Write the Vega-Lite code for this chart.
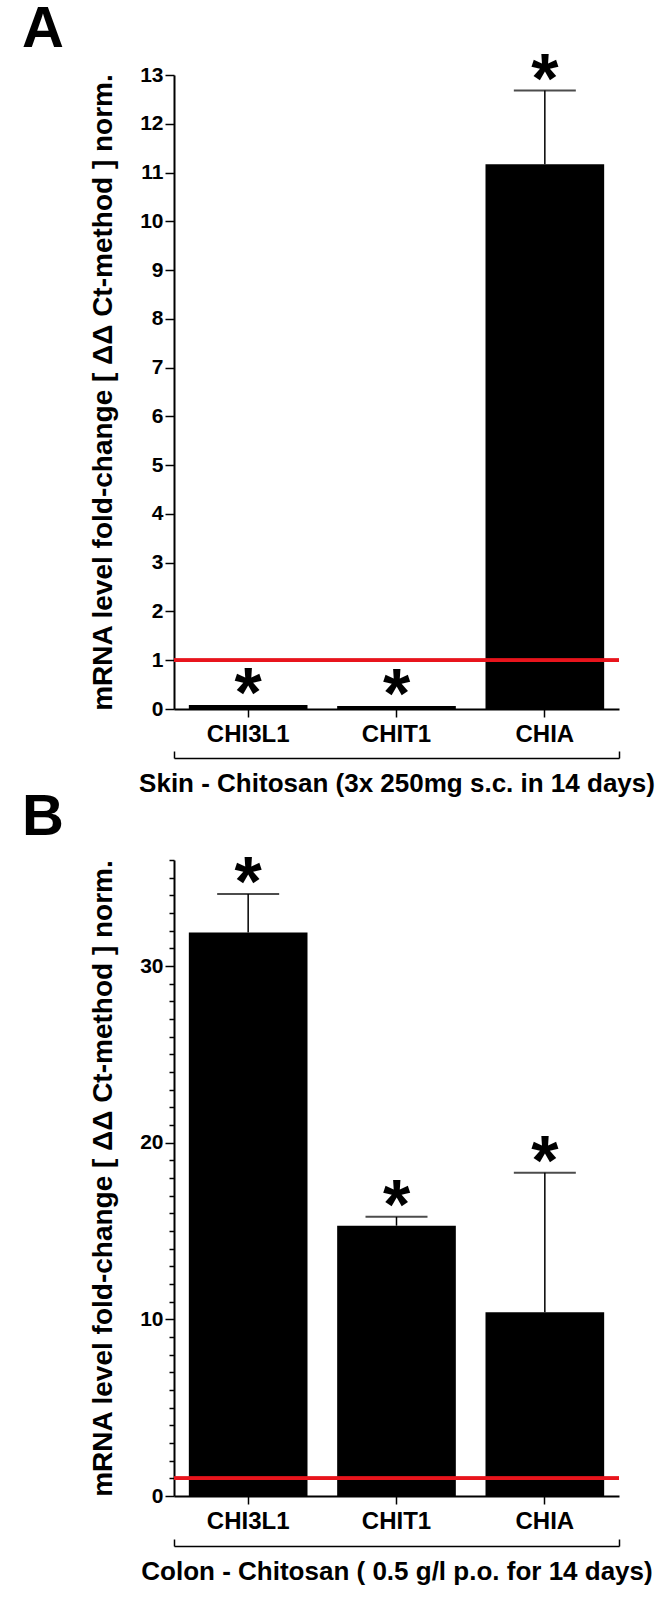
{
  "$schema": "https://vega.github.io/schema/vega-lite/v6.json",
  "padding": {"left": 22, "top": 0, "right": 5, "bottom": 2},
  "background": "white",
  "spacing": -8,
  "config": {
    "view": {"stroke": null},
    "axis": {"domainColor": "black", "tickColor": "black", "labelColor": "black", "titleColor": "black", "grid": false},
    "title": {"color": "black"}
  },
  "datasets": {
    "skin": [
      {"gene": "CHI3L1", "value": 0.08, "upper": 0.08, "sig": "*"},
      {"gene": "CHIT1", "value": 0.06, "upper": 0.06, "sig": "*"},
      {"gene": "CHIA", "value": 11.17, "upper": 12.68, "sig": "*"}
    ],
    "colon": [
      {"gene": "CHI3L1", "value": 31.9, "upper": 34.07, "sig": "*"},
      {"gene": "CHIT1", "value": 15.3, "upper": 15.8, "sig": "*"},
      {"gene": "CHIA", "value": 10.4, "upper": 18.3, "sig": "*"}
    ]
  },
  "vconcat": [
    {
      "width": 445,
      "height": 634,
      "title": {"text": "A", "anchor": "start", "frame": "group", "dx": -152, "fontSize": 58, "font": "Liberation Sans", "fontWeight": "bold", "offset": -12},
      "data": {"name": "skin"},
      "layer": [
        {
          "encoding": {
            "x": {"field": "gene", "type": "nominal", "sort": null, "scale": {"paddingInner": 0, "paddingOuter": 0},
              "axis": {"title": null, "labelAngle": 0, "tickSize": 8, "tickWidth": 1.5, "domainWidth": 2, "labelPadding": 5, "labelFont": "Liberation Sans", "labelFontWeight": "bold", "labelFontSize": 24}},
            "y": {"type": "quantitative", "scale": {"domain": [0, 13], "nice": false},
              "axis": {"values": [0,1,2,3,4,5,6,7,8,9,10,11,12,13], "tickSize": 9, "tickWidth": 1.5, "domainWidth": 2, "labelPadding": 2, "labelFont": "Liberation Sans", "labelFontWeight": "bold", "labelFontSize": 21,
                "title": "mRNA level fold-change [ ΔΔ Ct-method ] norm.", "titleFont": "Liberation Sans", "titleFontWeight": "bold", "titleFontSize": 28, "titlePadding": 22}}
          },
          "layer": [
            {"mark": {"type": "bar", "color": "black", "width": {"band": 0.8}}, "encoding": {"y": {"field": "value", "type": "quantitative"}}},
            {"mark": {"type": "rule", "color": "black", "strokeWidth": 1.5}, "encoding": {"y": {"field": "value", "type": "quantitative"}, "y2": {"field": "upper"}}},
            {"transform": [{"filter": "datum.upper > datum.value"}], "mark": {"type": "tick", "color": "black", "thickness": 2, "size": 62}, "encoding": {"y": {"field": "upper", "type": "quantitative"}}},
            {"mark": {"type": "text", "font": "Liberation Sans", "fontWeight": "bold", "fontSize": 70, "baseline": "alphabetic", "dy": 12, "color": "black"}, "encoding": {"y": {"field": "upper", "type": "quantitative"}, "text": {"field": "sig"}}},
            {"mark": {"type": "rule", "color": "#e8141c", "strokeWidth": 3.5}, "encoding": {"y": {"datum": 1, "type": "quantitative"}, "x": {"value": 0}, "x2": {"value": "width"}}}
          ]
        },
        {
          "mark": {"type": "rule", "opacity": 0},
          "encoding": {
            "x": {"datum": 0, "type": "quantitative", "scale": {"domain": [0, 1], "nice": false},
              "axis": {"orient": "bottom", "offset": 49, "values": [0, 1], "labels": false, "tickSize": -7, "tickWidth": 1.5, "domainWidth": 1.5,
                "title": "Skin - Chitosan (3x 250mg s.c. in 14 days)", "titleFont": "Liberation Sans", "titleFontWeight": "bold", "titleFontSize": 26, "titlePadding": 12}}
          }
        }
      ],
      "resolve": {"scale": {"x": "independent"}, "axis": {"x": "independent"}}
    },
    {
      "width": 445,
      "height": 636,
      "title": {"text": "B", "anchor": "start", "frame": "group", "dx": -152, "fontSize": 58, "font": "Liberation Sans", "fontWeight": "bold", "offset": 2},
      "data": {"name": "colon"},
      "layer": [
        {
          "encoding": {
            "x": {"field": "gene", "type": "nominal", "sort": null, "scale": {"paddingInner": 0, "paddingOuter": 0},
              "axis": {"title": null, "labelAngle": 0, "tickSize": 8, "tickWidth": 1.5, "domainWidth": 2, "labelPadding": 5, "labelFont": "Liberation Sans", "labelFontWeight": "bold", "labelFontSize": 24}},
            "y": {"type": "quantitative", "scale": {"domain": [0, 36], "nice": false},
              "axis": {"values": [0,1,2,3,4,5,6,7,8,9,10,11,12,13,14,15,16,17,18,19,20,21,22,23,24,25,26,27,28,29,30,31,32,33,34,35,36],
                "labelExpr": "datum.value % 10 === 0 ? datum.label : ''", "labelOverlap": false,
                "tickSize": {"condition": {"test": "datum.value % 10 === 0", "value": 9}, "value": 5},
                "tickWidth": 1.5, "domainWidth": 2, "labelPadding": 2, "labelFont": "Liberation Sans", "labelFontWeight": "bold", "labelFontSize": 21,
                "title": "mRNA level fold-change [ ΔΔ Ct-method ] norm.", "titleFont": "Liberation Sans", "titleFontWeight": "bold", "titleFontSize": 28, "titlePadding": 22}}
          },
          "layer": [
            {"mark": {"type": "bar", "color": "black", "width": {"band": 0.8}}, "encoding": {"y": {"field": "value", "type": "quantitative"}}},
            {"mark": {"type": "rule", "color": "black", "strokeWidth": 1.5}, "encoding": {"y": {"field": "value", "type": "quantitative"}, "y2": {"field": "upper"}}},
            {"transform": [{"filter": "datum.upper > datum.value"}], "mark": {"type": "tick", "color": "black", "thickness": 2, "size": 62}, "encoding": {"y": {"field": "upper", "type": "quantitative"}}},
            {"mark": {"type": "text", "font": "Liberation Sans", "fontWeight": "bold", "fontSize": 70, "baseline": "alphabetic", "dy": 12, "color": "black"}, "encoding": {"y": {"field": "upper", "type": "quantitative"}, "text": {"field": "sig"}}},
            {"mark": {"type": "rule", "color": "#e8141c", "strokeWidth": 3.5}, "encoding": {"y": {"datum": 1, "type": "quantitative"}, "x": {"value": 0}, "x2": {"value": "width"}}}
          ]
        },
        {
          "mark": {"type": "rule", "opacity": 0},
          "encoding": {
            "x": {"datum": 0, "type": "quantitative", "scale": {"domain": [0, 1], "nice": false},
              "axis": {"orient": "bottom", "offset": 50, "values": [0, 1], "labels": false, "tickSize": -7, "tickWidth": 1.5, "domainWidth": 1.5,
                "title": "Colon - Chitosan ( 0.5 g/l p.o. for 14 days)", "titleFont": "Liberation Sans", "titleFontWeight": "bold", "titleFontSize": 26, "titlePadding": 12}}
          }
        }
      ],
      "resolve": {"scale": {"x": "independent"}, "axis": {"x": "independent"}}
    }
  ]
}
